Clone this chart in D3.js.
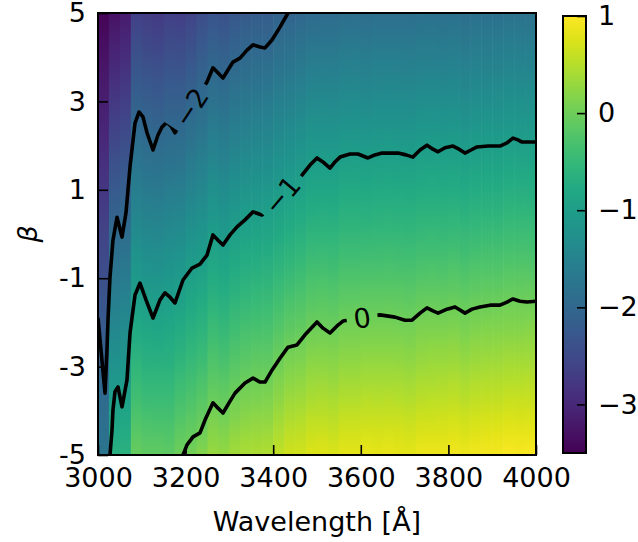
<!DOCTYPE html>
<html>
<head>
<meta charset="utf-8">
<script src="https://cdn.jsdelivr.net/npm/d3@7"></script>
<style>
  body { margin: 0; background: #fff; }
  text { font-family: "DejaVu Sans", sans-serif; }
</style>
</head>
<body>
<svg id="chart" width="638" height="542"></svg>
<script>
// cell left edges in Angstrom, every cell is 25 A wide
const cellStarts = [3000, 3025, 3050, 3075, 3100, 3125, 3150, 3175, 3200, 3225,
  3250, 3275, 3300, 3325, 3350, 3375, 3400, 3425, 3450, 3475,
  3500, 3525, 3550, 3575, 3600, 3625, 3650, 3675, 3700, 3725,
  3750, 3775, 3800, 3825, 3850, 3875, 3900, 3925, 3950, 3975];
const cellWidth = 25;

const betaRows = [5, 2.5, 0, -2.5, -5];

// field values per column, one array per beta row
const valTop = [-3.45, -3.29, -3.18, -2.64, -2.70, -2.74, -2.64, -2.68, -2.59, -2.44,
  -2.33, -2.38, -2.28, -2.24, -2.20, -2.20, -2.09, -2.06, -2.00, -1.93,
  -1.92, -1.92, -1.87, -1.86, -1.90, -1.86, -1.86, -1.86, -1.87, -1.84,
  -1.83, -1.85, -1.83, -1.87, -1.83, -1.84, -1.83, -1.80, -1.80, -1.81];
const valUpper = [-3.05, -2.63, -2.54, -1.99, -2.05, -2.08, -2.01, -2.01, -1.90, -1.80,
  -1.67, -1.72, -1.63, -1.57, -1.54, -1.52, -1.44, -1.39, -1.33, -1.25,
  -1.24, -1.25, -1.20, -1.19, -1.21, -1.19, -1.18, -1.19, -1.20, -1.16,
  -1.15, -1.17, -1.15, -1.19, -1.15, -1.14, -1.14, -1.11, -1.11, -1.12];
const valMid = [-2.60, -1.97, -1.90, -1.34, -1.40, -1.42, -1.37, -1.33, -1.21, -1.15,
  -1.00, -1.06, -0.97, -0.90, -0.88, -0.85, -0.78, -0.71, -0.65, -0.58,
  -0.57, -0.58, -0.52, -0.52, -0.52, -0.51, -0.50, -0.51, -0.52, -0.48,
  -0.47, -0.48, -0.46, -0.49, -0.46, -0.45, -0.45, -0.42, -0.42, -0.42];
const valLower = [-2.15, -1.32, -1.26, -0.69, -0.75, -0.76, -0.74, -0.66, -0.57, -0.50,
  -0.35, -0.40, -0.30, -0.24, -0.21, -0.20, -0.10, -0.01, 0.02, 0.10,
  0.11, 0.09, 0.15, 0.15, 0.17, 0.17, 0.17, 0.16, 0.15, 0.20,
  0.21, 0.21, 0.23, 0.19, 0.23, 0.24, 0.25, 0.27, 0.27, 0.28];
const valBottom = [-1.75, -0.66, -0.62, -0.04, -0.10, -0.10, -0.11, 0.01, 0.05, 0.16,
  0.31, 0.27, 0.38, 0.43, 0.45, 0.46, 0.58, 0.68, 0.70, 0.77,
  0.78, 0.76, 0.82, 0.82, 0.85, 0.84, 0.85, 0.84, 0.82, 0.88,
  0.89, 0.90, 0.92, 0.88, 0.92, 0.94, 0.94, 0.97, 0.96, 0.97];

// contour lines [wavelength, beta]
const contourM2 = [[3000, -1.90], [3006.8, -2.62], [3016, -3.60], [3020.5, -2.62], [3022.8, -1.95],
  [3027.4, -0.97], [3034.2, -0.14], [3043.4, 0.38], [3054.8, -0.07], [3063.9, 0.48],
  [3073.1, 1.52], [3084.5, 2.51], [3093.6, 2.76], [3102.7, 2.65], [3111.9, 2.29],
  [3125.6, 1.90], [3137.0, 2.24], [3146.1, 2.42], [3157.5, 2.53], [3166.7, 2.44],
  [3175.8, 2.29], [3248.8, 3.44], [3262.5, 3.76], [3285.4, 3.53], [3308.2, 3.89],
  [3324.2, 3.98], [3340.2, 4.16], [3353.9, 4.28], [3369.8, 4.23], [3381.3, 4.21],
  [3397.2, 4.39], [3415.5, 4.68], [3433.8, 5.0]];
const contourM1 = [[3027.4, -5], [3032.0, -4.43], [3034.2, -3.98], [3038.8, -3.57], [3045.7, -3.46],
  [3054.8, -3.91], [3066.2, -3.30], [3073.1, -2.24], [3084.5, -1.38], [3095.9, -1.11],
  [3109.6, -1.49], [3125.6, -1.90], [3141.6, -1.49], [3153.0, -1.33], [3164.4, -1.43],
  [3175.8, -1.56], [3194.1, -1.04], [3214.6, -0.77], [3232.9, -0.68], [3248.8, -0.48],
  [3262.5, -0.02], [3274.0, -0.14], [3285.4, -0.25], [3301.4, -0.02], [3317.4, 0.16],
  [3335.6, 0.32], [3353.9, 0.50], [3374.4, 0.43], [3465.8, 1.33], [3484.0, 1.56],
  [3500.0, 1.72], [3516.0, 1.61], [3529.7, 1.49], [3541.1, 1.63], [3552.5, 1.74],
  [3575.3, 1.81], [3593.6, 1.81], [3616.4, 1.72], [3632.4, 1.79], [3648.4, 1.83],
  [3666.7, 1.83], [3684.9, 1.83], [3703.2, 1.79], [3719.2, 1.74], [3735.2, 1.90],
  [3751.1, 2.01], [3764.8, 1.92], [3776.3, 1.86], [3792.2, 1.95], [3810.5, 1.99],
  [3824.2, 1.92], [3837.9, 1.83], [3851.6, 1.90], [3865.3, 1.97], [3890.4, 1.99],
  [3917.8, 1.99], [3933.8, 2.06], [3947.5, 2.17], [3958.9, 2.13], [3968.0, 2.08],
  [3981.7, 2.08], [4000, 2.08]];
const contour0 = [[3194.1, -5], [3203.2, -4.77], [3216.9, -4.59], [3232.9, -4.50], [3244.3, -4.21],
  [3262.5, -3.82], [3274.0, -3.94], [3285.4, -4.05], [3299.1, -3.82], [3312.8, -3.60],
  [3335.6, -3.37], [3353.9, -3.26], [3369.8, -3.35], [3381.3, -3.35], [3397.2, -3.08],
  [3415.5, -2.81], [3433.8, -2.56], [3454.3, -2.51], [3472.6, -2.28], [3500.0, -1.99],
  [3513.7, -2.13], [3529.7, -2.24], [3545.7, -2.08], [3559.4, -1.97], [3643.8, -1.83],
  [3678.1, -1.88], [3700.9, -1.95], [3716.9, -1.95], [3735.2, -1.79], [3751.1, -1.67],
  [3764.8, -1.74], [3776.3, -1.79], [3796.8, -1.70], [3815.1, -1.65], [3826.5, -1.72],
  [3837.9, -1.79], [3853.9, -1.70], [3872.1, -1.65], [3895.0, -1.61], [3917.8, -1.61],
  [3933.8, -1.54], [3947.5, -1.47], [3963.5, -1.52], [3979.5, -1.54], [4000, -1.52]];

const contourLevels = [-2, -1, 0];
const contourLines = [contourM2, contourM1, contour0];
const labelAt = [[3212, 2.87], [3420, 0.88], [3603, -1.90]];
const labelAngle = [-57, -50, -8];

const xTicks = [3000, 3200, 3400, 3600, 3800, 4000];
const yTicks = [5, 3, 1, -1, -3, -5];
const cbTicks = [1, 0, -1, -2, -3];
const cbDomain = [-3.5, 1];

const svg = d3.select("#chart");
const defs = svg.append("defs");
const fs = 27;

const x = d3.scaleLinear().domain([3000, 4000]).range([98, 536]);
const y = d3.scaleLinear().domain([-5, 5]).range([455, 13]);
const color = d3.scaleSequential(d3.interpolateViridis).domain(cbDomain);

defs.append("clipPath").attr("id", "plotClip")
  .append("rect")
  .attr("x", x(3000)).attr("y", y(5))
  .attr("width", x(4000) - x(3000)).attr("height", y(-5) - y(5));

// heatmap columns, each with a vertical gradient through the beta rows
const rows = [valTop, valUpper, valMid, valLower, valBottom];
cellStarts.forEach(function (wl, i) {
  const g = defs.append("linearGradient")
    .attr("id", "col" + i)
    .attr("x1", 0).attr("y1", 0).attr("x2", 0).attr("y2", 1);
  for (let j = 0; j < betaRows.length - 1; j++) {
    const iv = d3.interpolateNumber(rows[j][i], rows[j + 1][i]);
    const ib = d3.interpolateNumber(betaRows[j], betaRows[j + 1]);
    for (let k = 0; k <= 6; k++) {
      const t = k / 6;
      g.append("stop")
        .attr("offset", (y(ib(t)) - y(5)) / (y(-5) - y(5)))
        .attr("stop-color", color(iv(t)));
    }
  }
});

const heat = svg.append("g").attr("clip-path", "url(#plotClip)");
heat.selectAll("rect")
  .data(cellStarts)
  .enter().append("rect")
  .attr("x", d => x(d))
  .attr("y", y(5))
  .attr("width", d => x(d + cellWidth) - x(d) + 0.6)
  .attr("height", y(-5) - y(5))
  .attr("fill", (d, i) => "url(#col" + i + ")");

// contour labels cut gaps in the lines through a mask
const fmt = d3.format("d");
const mask = defs.append("mask").attr("id", "labelMask")
  .attr("maskUnits", "userSpaceOnUse")
  .attr("x", 0).attr("y", 0).attr("width", 638).attr("height", 542);
mask.append("rect").attr("width", 638).attr("height", 542).attr("fill", "white");

const labels = svg.append("g").attr("class", "clabel");
contourLevels.forEach(function (lv, i) {
  const px = x(labelAt[i][0]), py = y(labelAt[i][1]);
  const t = labels.append("text")
    .attr("transform", `translate(${px},${py}) rotate(${labelAngle[i]})`)
    .attr("text-anchor", "middle")
    .attr("dy", "0.36em")
    .attr("font-size", fs)
    .text(fmt(lv));
  const w = t.node().getComputedTextLength() + 14;
  mask.append("rect")
    .attr("x", -w / 2).attr("y", -14)
    .attr("width", w).attr("height", 28)
    .attr("transform", `translate(${px},${py}) rotate(${labelAngle[i]})`)
    .attr("fill", "black");
});

const line = d3.line().x(d => x(d[0])).y(d => y(d[1]));
svg.append("g")
  .attr("clip-path", "url(#plotClip)")
  .append("g")
  .attr("mask", "url(#labelMask)")
  .selectAll("path")
  .data(contourLines)
  .enter().append("path")
  .attr("d", line)
  .attr("fill", "none")
  .attr("stroke", "black")
  .attr("stroke-width", 3.6)
  .attr("stroke-linejoin", "round")
  .attr("stroke-linecap", "butt");

labels.raise();

// axes with inward ticks
function styleAxis(g) {
  g.select(".domain").remove();
  g.selectAll(".tick line").attr("stroke", "black").attr("stroke-width", 1.6);
  g.selectAll(".tick text").attr("font-size", fs).attr("fill", "black")
    .attr("font-family", "DejaVu Sans");
}

svg.append("g")
  .attr("transform", `translate(0,${y(-5)})`)
  .call(d3.axisBottom(x).tickValues(xTicks).tickSizeInner(-10).tickSizeOuter(0)
    .tickPadding(13).tickFormat(d => String(d)))
  .call(styleAxis);

svg.append("g")
  .attr("transform", `translate(${x(3000)},0)`)
  .call(d3.axisLeft(y).tickValues(yTicks).tickSizeInner(-10).tickSizeOuter(0)
    .tickPadding(12).tickFormat(d => String(d)))
  .call(styleAxis);

svg.append("rect")
  .attr("x", x(3000)).attr("y", y(5))
  .attr("width", x(4000) - x(3000)).attr("height", y(-5) - y(5))
  .attr("fill", "none").attr("stroke", "black").attr("stroke-width", 2);

svg.append("text")
  .attr("x", (x(3000) + x(4000)) / 2).attr("y", 531)
  .attr("text-anchor", "middle").attr("font-size", fs)
  .text("Wavelength [Å]");

svg.append("text")
  .attr("transform", `translate(37,${(y(5) + y(-5)) / 2}) rotate(-90)`)
  .attr("text-anchor", "middle").attr("font-size", fs)
  .attr("font-style", "italic")
  .text("β");

// colorbar
const cbX = 563, cbW = 23;
const cbY = d3.scaleLinear().domain(cbDomain).range([453, 16]);
const cbGrad = defs.append("linearGradient").attr("id", "cbGrad")
  .attr("x1", 0).attr("y1", 1).attr("x2", 0).attr("y2", 0);
d3.range(0, 1.0001, 0.05).forEach(function (t) {
  cbGrad.append("stop").attr("offset", t)
    .attr("stop-color", d3.interpolateViridis(t));
});
svg.append("rect")
  .attr("x", cbX).attr("y", cbY(1))
  .attr("width", cbW).attr("height", cbY(-3.5) - cbY(1))
  .attr("fill", "url(#cbGrad)");

svg.append("g")
  .attr("transform", `translate(${cbX + cbW},0)`)
  .call(d3.axisRight(cbY).tickValues(cbTicks).tickSizeInner(-9).tickSizeOuter(0)
    .tickPadding(12).tickFormat(fmt))
  .call(styleAxis);

svg.append("rect")
  .attr("x", cbX).attr("y", cbY(1))
  .attr("width", cbW).attr("height", cbY(-3.5) - cbY(1))
  .attr("fill", "none").attr("stroke", "black").attr("stroke-width", 2);
</script>
</body>
</html>
